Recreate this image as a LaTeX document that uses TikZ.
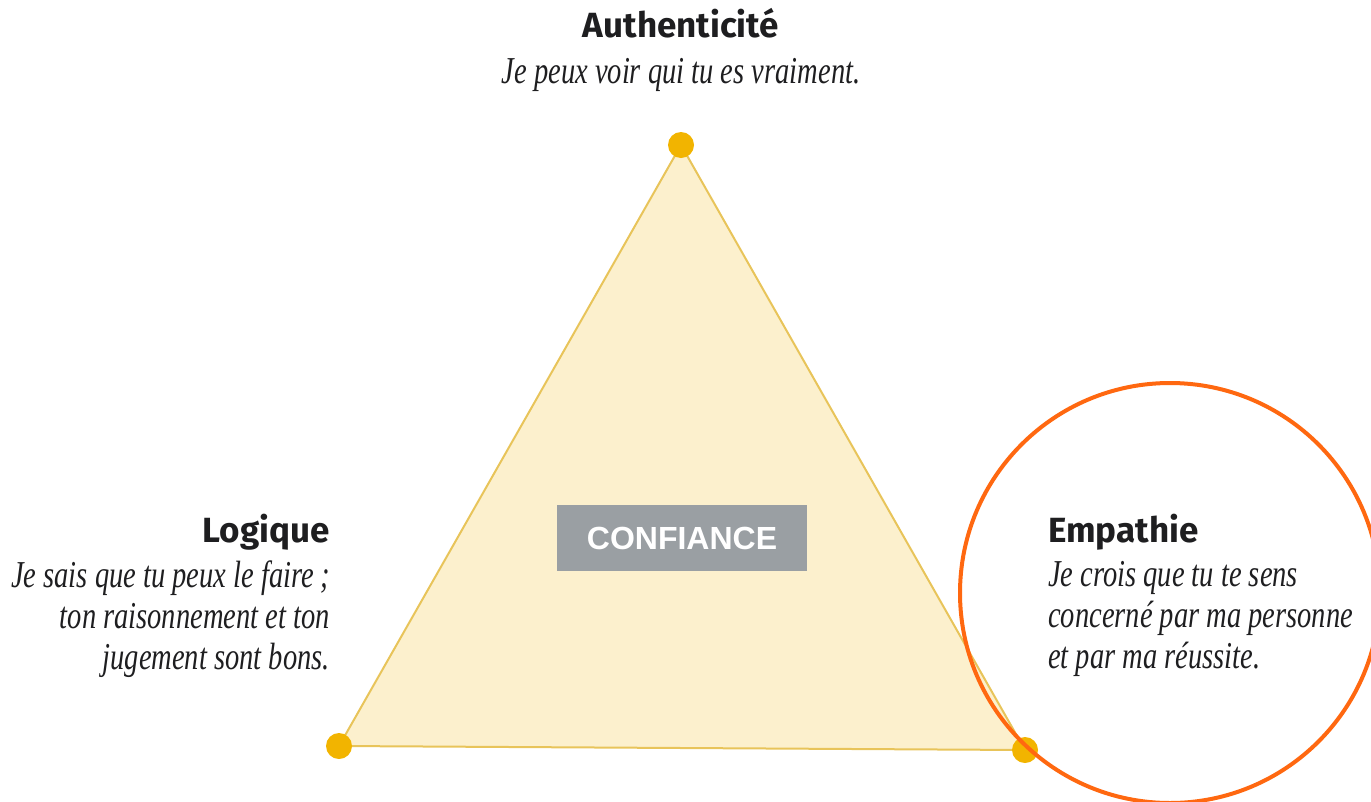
\documentclass[tikz,border=0pt]{standalone}
\usepackage{fontspec}
\setsansfont{Fira Sans}
\newfontfamily\quotefont[FakeStretch=0.75]{Liberation Serif}
\newfontfamily\boxfont{Liberation Sans}
\usepackage{tikz}
\usetikzlibrary{positioning}

\definecolor{trifill}{RGB}{252,240,205}
\definecolor{triedge}{RGB}{232,196,90}
\definecolor{dotgold}{RGB}{242,180,0}
\definecolor{boxgray}{RGB}{154,159,163}
\definecolor{ringorange}{RGB}{255,104,16}
\definecolor{inkdark}{RGB}{30,30,32}

\begin{document}
\begin{tikzpicture}[x=1pt, y=-1pt,
    corner/.style={circle, fill=dotgold, inner sep=0pt, minimum size=26pt},
    title/.style={font=\sffamily\bfseries\fontsize{35}{40}\selectfont, text=inkdark, inner sep=0pt},
    quote/.style={font=\quotefont\itshape\fontsize{38}{41}\selectfont, text=inkdark, inner sep=0pt}]
    \useasboundingbox (0,0) rectangle (1371,801);
    \clip (0,0) rectangle (1371,801);

    % Corners of the triangle
    \coordinate (top) at (681,145);
    \coordinate (left) at (339,746);
    \coordinate (right) at (1025,750);

    % Draw the triangle
    \draw[fill=trifill, draw=triedge, line width=2pt, line join=round] (top) -- (left) -- (right) -- cycle;

    % Dots on the corners
    \foreach \c in {top,left,right}
      \node[corner] (dot-\c) at (\c) {};

    % Center label
    \node[fill=boxgray, minimum width=250pt, minimum height=66pt, inner sep=0pt,
          font=\boxfont\bfseries\fontsize{32}{38}\selectfont, text=white] (trust) at (682,538) {CONFIANCE};

    % Authenticite
    \node[title, anchor=base] (auth) at (681,37) {Authenticité};
    \node[quote, anchor=base] (auth-q) at (681,83) {Je peux voir qui tu es vraiment.};

    % Logique
    \node[title, anchor=base east] (logic) at (330,542) {Logique};
    \node[quote, anchor=north east, align=right] (logic-q) at (330,561)
      {Je sais que tu peux le faire\,;\\ ton raisonnement et ton\\ jugement sont bons.};

    % Empathie
    \node[title, anchor=base west] (emp) at (1048,542) {Empathie};
    \node[quote, anchor=north west, align=left] (emp-q) at (1048,561)
      {Je crois que tu te sens\\ concerné par ma personne\\ et par ma réussite.};

    % Highlight ring
    \node[circle, draw=ringorange, line width=4pt, minimum size=420pt, inner sep=0pt] (ring) at (1170,593) {};
\end{tikzpicture}
\end{document}
